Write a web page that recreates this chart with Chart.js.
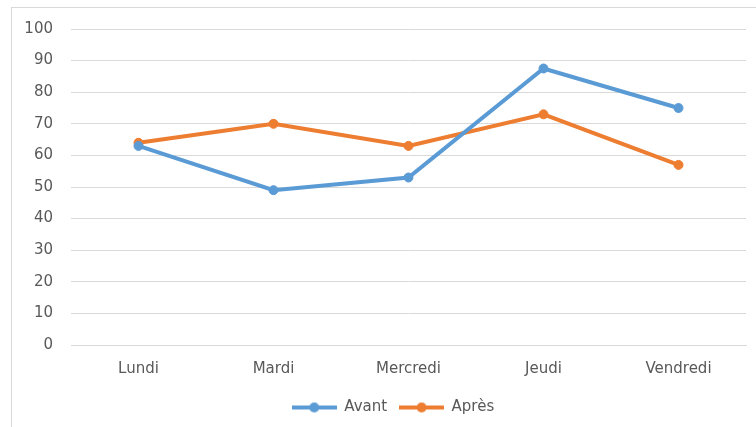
<!DOCTYPE html>
<html>
<head>
<meta charset="utf-8">
<script src="https://cdn.jsdelivr.net/npm/chart.js@4"></script>
<style>
  body { margin: 0; background: #fff; }
  #frame { position: absolute; left: 11px; top: 7px; width: 760px; height: 440px; border: 1px solid #d9d9d9; }
  #chart { position: absolute; left: 0; top: 0; }
</style>
</head>
<body>
<div id="frame"></div>
<canvas id="chart" width="756" height="427"></canvas>
<script>
'use strict';

const DAYS = ['Lundi', 'Mardi', 'Mercredi', 'Jeudi', 'Vendredi'];
const AVANT = [63, 49, 53, 87.5, 75];
const APRES = [64, 70, 63, 73, 57];
const SERIES_NAMES = ['Avant', 'Après'];

const BLUE = '#5b9bd5';
const ORANGE = '#ed7d31';
const TEXT_COLOR = '#595959';
const GRID_COLOR = '#d9d9d9';

// little "line with a dot" marker, like the legend in the original
const legendMarker = (color) => {
  const c = document.createElement('canvas');
  c.width = 45;
  c.height = 12;
  const ctx = c.getContext('2d');
  ctx.strokeStyle = color;
  ctx.lineWidth = 4;
  ctx.beginPath();
  ctx.moveTo(0, 6);
  ctx.lineTo(45, 6);
  ctx.stroke();
  ctx.fillStyle = color;
  ctx.beginPath();
  ctx.arc(22.5, 6, 5, 0, Math.PI * 2);
  ctx.fill();
  return c;
};

const makeDataset = (label, data, color) => ({
  label,
  data,
  borderColor: color,
  backgroundColor: color,
  borderWidth: 4,
  pointRadius: 4.5,
  pointBorderWidth: 1,
  pointHoverRadius: 4.5,
  tension: 0,
});

// the legend in the original sits a bit right of centre
const legendShift = {
  id: 'legendShift',
  afterLayout(chart) {
    chart.legend.left += 20;
    chart.legend.right += 20;
  },
};

Chart.defaults.font.family = '"DejaVu Sans", sans-serif';
Chart.defaults.font.size = 15;
Chart.defaults.color = TEXT_COLOR;

const chartConfig = {
  type: 'line',
  data: {
    labels: DAYS,
    datasets: [
      makeDataset(SERIES_NAMES[0], AVANT, BLUE),
      makeDataset(SERIES_NAMES[1], APRES, ORANGE),
    ],
  },
  options: {
    responsive: false,
    animation: false,
    layout: {
      padding: { top: 29, right: 10, bottom: 2, left: 0 },
    },
    scales: {
      x: {
        offset: true,
        grid: { display: false, drawTicks: false },
        border: { color: GRID_COLOR },
        ticks: { padding: 15, color: TEXT_COLOR },
        afterFit: (scale) => { scale.height = 43; },
      },
      y: {
        min: 0,
        max: 100,
        ticks: { stepSize: 10, padding: 18, color: TEXT_COLOR },
        grid: { color: GRID_COLOR, drawTicks: false },
        border: { display: false },
        afterFit: (scale) => { scale.width = 71; },
      },
    },
    plugins: {
      tooltip: { enabled: false },
      legend: {
        position: 'bottom',
        labels: {
          usePointStyle: true,
          pointStyleWidth: 45,
          padding: 12,
          color: TEXT_COLOR,
          generateLabels: (chart) => {
            const items = Chart.defaults.plugins.legend.labels.generateLabels(chart);
            items.forEach((item) => {
              item.pointStyle = legendMarker(chart.data.datasets[item.datasetIndex].borderColor);
            });
            return items;
          },
        },
      },
    },
  },
  plugins: [legendShift],
};

new Chart(document.getElementById('chart'), chartConfig);
</script>
</body>
</html>
